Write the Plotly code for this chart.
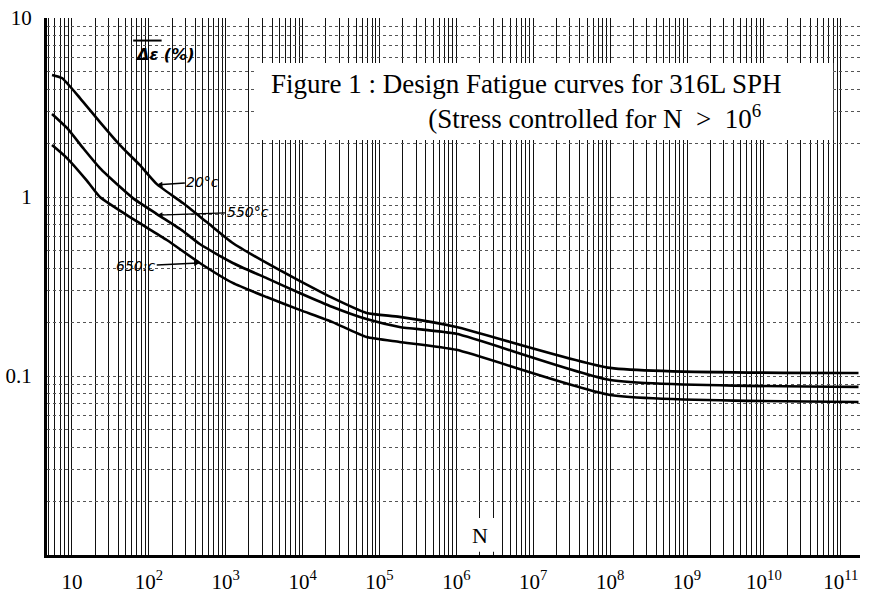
import math
import plotly.graph_objects as go

# ---- data ----
N_20 = [5.5, 7.4, 12.7, 23.1, 42, 76, 127, 277, 566, 1233, 3400, 9140, 24500, 67800, 182000, 1e6, 1e8, 1.7e11]
D_20 = [4.81, 4.62, 3.57, 2.62, 1.95, 1.51, 1.18, 0.925, 0.724, 0.553, 0.428, 0.340, 0.273, 0.225, 0.214, 0.188, 0.111, 0.104]

N_550 = [5.5, 8.6, 13.9, 23.1, 42, 62, 127, 277, 459, 1233, 3400, 9140, 24500, 67800, 182000, 1e6, 1e8, 1.7e11]
D_550 = [2.91, 2.43, 1.88, 1.45, 1.14, 0.986, 0.803, 0.646, 0.546, 0.428, 0.352, 0.291, 0.243, 0.208, 0.188, 0.172, 0.095, 0.0869]

N_650 = [5.5, 8.6, 15.7, 23.1, 62, 171, 459, 1233, 3400, 9140, 24500, 67800, 182000, 1e6, 1e8, 1.7e11]
D_650 = [1.95, 1.65, 1.23, 1.0, 0.754, 0.575, 0.428, 0.331, 0.276, 0.234, 0.200, 0.165, 0.155, 0.140, 0.0784, 0.0716]

x_decades = list(range(1, 12))
x_tick_labels = ["10"] + ["10<sup>%d</sup>" % k for k in range(2, 12)]
y_decades = [-2, -1, 0, 1]
y_tick_labels = ["", "0.1", "1", "10"]

labels = ["20°c", "550°c", "650:c"]
label_at = [(127, 1.17), (127, 0.792), (459, 0.428)]

title_lines = ["Figure 1 : Design Fatigue curves for 316L SPH",
               "(Stress controlled for N  &gt;  10<sup>6</sup>"]

# ---- grid tick values (every 1..9 multiple) ----
xt_vals, xt_text = [], []
for d in range(0, 12):
    for m in range(1, 10):
        xt_vals.append(m * 10 ** d)
        xt_text.append(x_tick_labels[x_decades.index(d)] if (m == 1 and d in x_decades) else "")
yt_vals, yt_text = [], []
for d in range(-2, 2):
    for m in range(1, 10):
        if d == 1 and m > 1:
            break
        yt_vals.append(m * 10.0 ** d)
        yt_text.append(y_tick_labels[y_decades.index(d)] if m == 1 else "")

fig = go.Figure()
for N, D in [(N_20, D_20), (N_550, D_550), (N_650, D_650)]:
    fig.add_trace(go.Scatter(x=N, y=D, mode="lines",
                             line=dict(color="black", width=2.6, shape="spline", smoothing=0.5),
                             showlegend=False, hoverinfo="skip"))

serif = "Liberation Serif, Times New Roman, serif"

fig.update_xaxes(type="log", range=[0.675, 11.25], automargin=False,
                 tickmode="array", tickvals=xt_vals, ticktext=xt_text,
                 showgrid=True, gridcolor="#111111", gridwidth=1,
                 showline=True, linecolor="black", linewidth=3,
                 ticks="", ticklabelstandoff=6,
                 tickfont=dict(family=serif, size=21, color="black"),
                 zeroline=False)
fig.update_yaxes(type="log", range=[-2, 1], automargin=False,
                 tickmode="array", tickvals=yt_vals, ticktext=yt_text,
                 showgrid=True, gridcolor="#555555", gridwidth=1, griddash="dot",
                 showline=True, linecolor="black", linewidth=3,
                 ticks="", ticklabelstandoff=8,
                 tickfont=dict(family=serif, size=21, color="black"),
                 zeroline=False)

# white boxes (title and N label)
fig.add_shape(type="rect", xref="paper", yref="paper", x0=0.256, x1=0.967, y0=0.773, y1=0.916,
              fillcolor="white", line=dict(width=0), layer="above")
fig.add_shape(type="rect", xref="paper", yref="paper", x0=0.508, x1=0.557, y0=0.006, y1=0.069,
              fillcolor="white", line=dict(width=0), layer="above")
# overline above the delta-epsilon symbol
fig.add_shape(type="line", xref="paper", yref="paper", x0=0.106, x1=0.141, y0=0.958, y1=0.958,
              line=dict(color="black", width=2), layer="above")

pad = "\u00a0" * 3
fig.add_annotation(xref="paper", yref="paper", x=0.905, y=0.844, xanchor="right", yanchor="middle",
                   text=title_lines[0] + "<br>" + title_lines[1] + pad, align="right",
                   showarrow=False,
                   font=dict(family=serif, size=27, color="black"))
fig.add_annotation(xref="paper", yref="paper", x=0.532, y=0.037, xanchor="center", yanchor="middle",
                   text="N", showarrow=False,
                   font=dict(family=serif, size=22, color="black"))
fig.add_annotation(xref="paper", yref="paper", x=0.145, y=0.932, xanchor="center", yanchor="middle",
                   text="<b><i>\u0394\u03b5 (%)</i></b>", showarrow=False,
                   font=dict(family="DejaVu Sans", size=16, color="black"))

offsets = [(46, -3), (91, -3), (-64, 3)]
for lab, (xv, yv), (ax, ay) in zip(labels, label_at, offsets):
    fig.add_annotation(x=math.log10(xv), y=math.log10(yv), text="<i>" + lab + "</i>",
                       showarrow=True, arrowhead=2, arrowsize=0.8, arrowwidth=1.4,
                       arrowcolor="black", ax=ax, ay=ay,
                       font=dict(family="DejaVu Sans", size=14, color="black"))

fig.update_layout(width=870, height=601,
                  margin=dict(l=47, r=10, t=18, b=46),
                  paper_bgcolor="white", plot_bgcolor="white")

fig.write_html("out.html", config={"displayModeBar": False},
               post_script="document.body.style.margin='0';")
